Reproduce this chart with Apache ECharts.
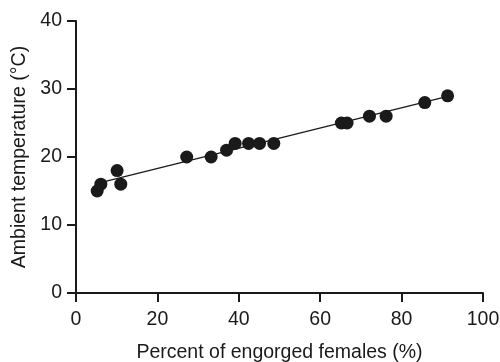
<!DOCTYPE html>
<html>
<head>
<meta charset="utf-8">
<script src="https://cdn.jsdelivr.net/npm/echarts@6/dist/echarts.min.js"></script>
<style>
  html, body { margin: 0; padding: 0; background: #fff; }
  #chart { width: 500px; height: 362px; }
</style>
</head>
<body>
<div id="chart"></div>
<script>
// engorged females (%) vs ambient temperature (°C)
var percentEngorged = [5.2, 6.1, 10.1, 11, 27.2, 33.2, 37, 39.1, 42.4, 45.1, 48.6, 65.2, 66.6, 72.1, 76.2, 85.7, 91.3];
var temperature     = [15, 16, 18, 16, 20, 20, 21, 22, 22, 22, 22, 25, 25, 26, 26, 28, 29];
// fitted line end points
var fitX = [6.5, 91.3];
var fitY = [16.3, 28.9];
var xTicks = [0, 20, 40, 60, 80, 100];
var yTicks = [0, 10, 20, 30, 40];

var points = percentEngorged.map(function (x, i) { return [x, temperature[i]]; });
var fitLine = fitX.map(function (x, i) { return [x, fitY[i]]; });

var font = 'Liberation Sans, Arial, sans-serif';
var axisCol = '#1a1a1a';
var fs = 19.5;

var chart = echarts.init(document.getElementById('chart'));
chart.setOption({
    animation: false,
    grid: { left: 76, right: 17, top: 21, bottom: 69, outerBoundsMode: 'none', containLabel: false },
    xAxis: {
        type: 'value',
        min: xTicks[0],
        max: xTicks[xTicks.length - 1],
        interval: 20,
        name: 'Percent of engorged females (%)',
        nameLocation: 'middle',
        nameGap: 50,
        nameTextStyle: { fontFamily: font, fontSize: fs, color: axisCol },
        axisLine: { onZero: false, lineStyle: { color: axisCol, width: 2 } },
        axisTick: { length: 9, lineStyle: { color: axisCol, width: 2 } },
        axisLabel: { fontFamily: font, fontSize: fs, color: axisCol, margin: 17 },
        splitLine: { show: false }
    },
    yAxis: {
        type: 'value',
        min: yTicks[0],
        max: yTicks[yTicks.length - 1],
        interval: 10,
        name: 'Ambient temperature (°C)',
        nameLocation: 'middle',
        nameGap: 46,
        nameTextStyle: { fontFamily: font, fontSize: fs, color: axisCol },
        axisLine: { onZero: false, lineStyle: { color: axisCol, width: 2 } },
        axisTick: { length: 9, lineStyle: { color: axisCol, width: 2 } },
        axisLabel: { fontFamily: font, fontSize: fs, color: axisCol, margin: 14 },
        splitLine: { show: false }
    },
    series: [
        {
            type: 'line',
            data: fitLine,
            symbol: 'none',
            lineStyle: { color: axisCol, width: 1.3 },
            z: 1
        },
        {
            type: 'scatter',
            data: points,
            symbolSize: 13,
            itemStyle: { color: axisCol, opacity: 1 },
            z: 2
        }
    ]
});
</script>
</body>
</html>
